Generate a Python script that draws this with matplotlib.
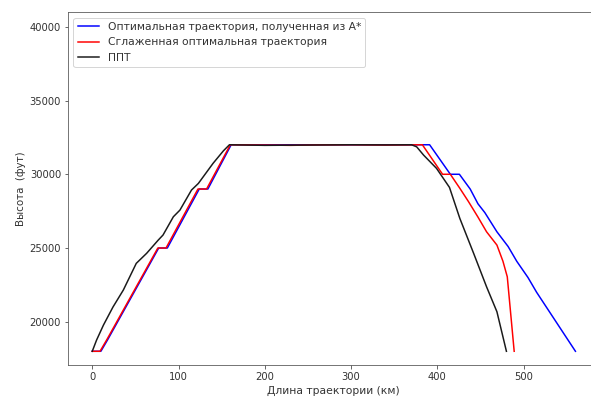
import matplotlib
matplotlib.use("Agg")
import matplotlib.pyplot as plt

# Оптимальная траектория A*
astar_x = [0, 10, 18, 77, 87, 124, 134, 161, 200, 250, 300, 350, 391, 415, 425.5,
           438, 447, 455, 469, 482, 492, 505, 515, 560]
astar_y = [18000, 18000, 18800, 25000, 25000, 29000, 29000, 32000, 32000, 32000, 32000,
           32000, 32000, 30000, 30000, 29000, 28000, 27400, 26100, 25100, 24100, 23000,
           22000, 18000]

# Сглаженная траектория
smooth_x = [0, 9, 17, 76, 85.5, 122.5, 132.5, 160, 200, 230, 260, 300, 340, 382.6, 406,
            415, 426, 436, 447, 457, 469, 476, 481, 489]
smooth_y = [18000, 18000, 18800, 25000, 25000, 29000, 29000, 32000, 31980, 31960, 31990,
            32000, 31980, 32000, 30000, 30000, 29050, 28150, 27100, 26100, 25200, 24100,
            23050, 18000]

# ППТ
ppt_x = [0, 5, 13, 24, 36, 51, 63, 76.5, 82, 94, 101.6, 115, 123, 140, 152, 159, 200, 250,
         300, 340, 370, 376, 384, 399, 414, 426, 442, 457, 469, 480]
ppt_y = [18000, 18760, 19780, 21000, 22150, 23960, 24640, 25540, 25880, 27120, 27570,
         28930, 29380, 30740, 31590, 32000, 31960, 31980, 32000, 31990, 32000, 31860,
         31300, 30400, 29110, 27010, 24640, 22370, 20680, 18000]

plt.rcParams['text.color'] = '#333333'
plt.rcParams['axes.labelcolor'] = '#333333'
plt.rcParams['xtick.color'] = '#444444'
plt.rcParams['ytick.color'] = '#444444'
plt.rcParams['xtick.labelcolor'] = '#333333'
plt.rcParams['ytick.labelcolor'] = '#333333'

fig = plt.figure(figsize=(591 / 72, 399 / 72), dpi=72)
ax = fig.add_axes([68.1 / 591, 34 / 399, 531.5 / 591, 352.7 / 399])

ax.plot(astar_x, astar_y, color="blue", label="Оптимальная траектория, полученная из A*")
ax.plot(smooth_x, smooth_y, color="red", label="Сглаженная оптимальная траектория")
ax.plot(ppt_x, ppt_y, color="#1a1a1a", label="ППТ")

for s in ax.spines.values():
    s.set_color('#555555')

ax.set_xlim(-28, 588)
ax.set_ylim(17070, 40980)
ax.set_xlabel("Длина траектории (км)", fontsize=10.7)
ax.set_ylabel("Высота  (фут)", fontsize=10.3)
ax.legend(loc="upper left", fontsize=10.7)

fig.savefig("out.png", dpi=72)
